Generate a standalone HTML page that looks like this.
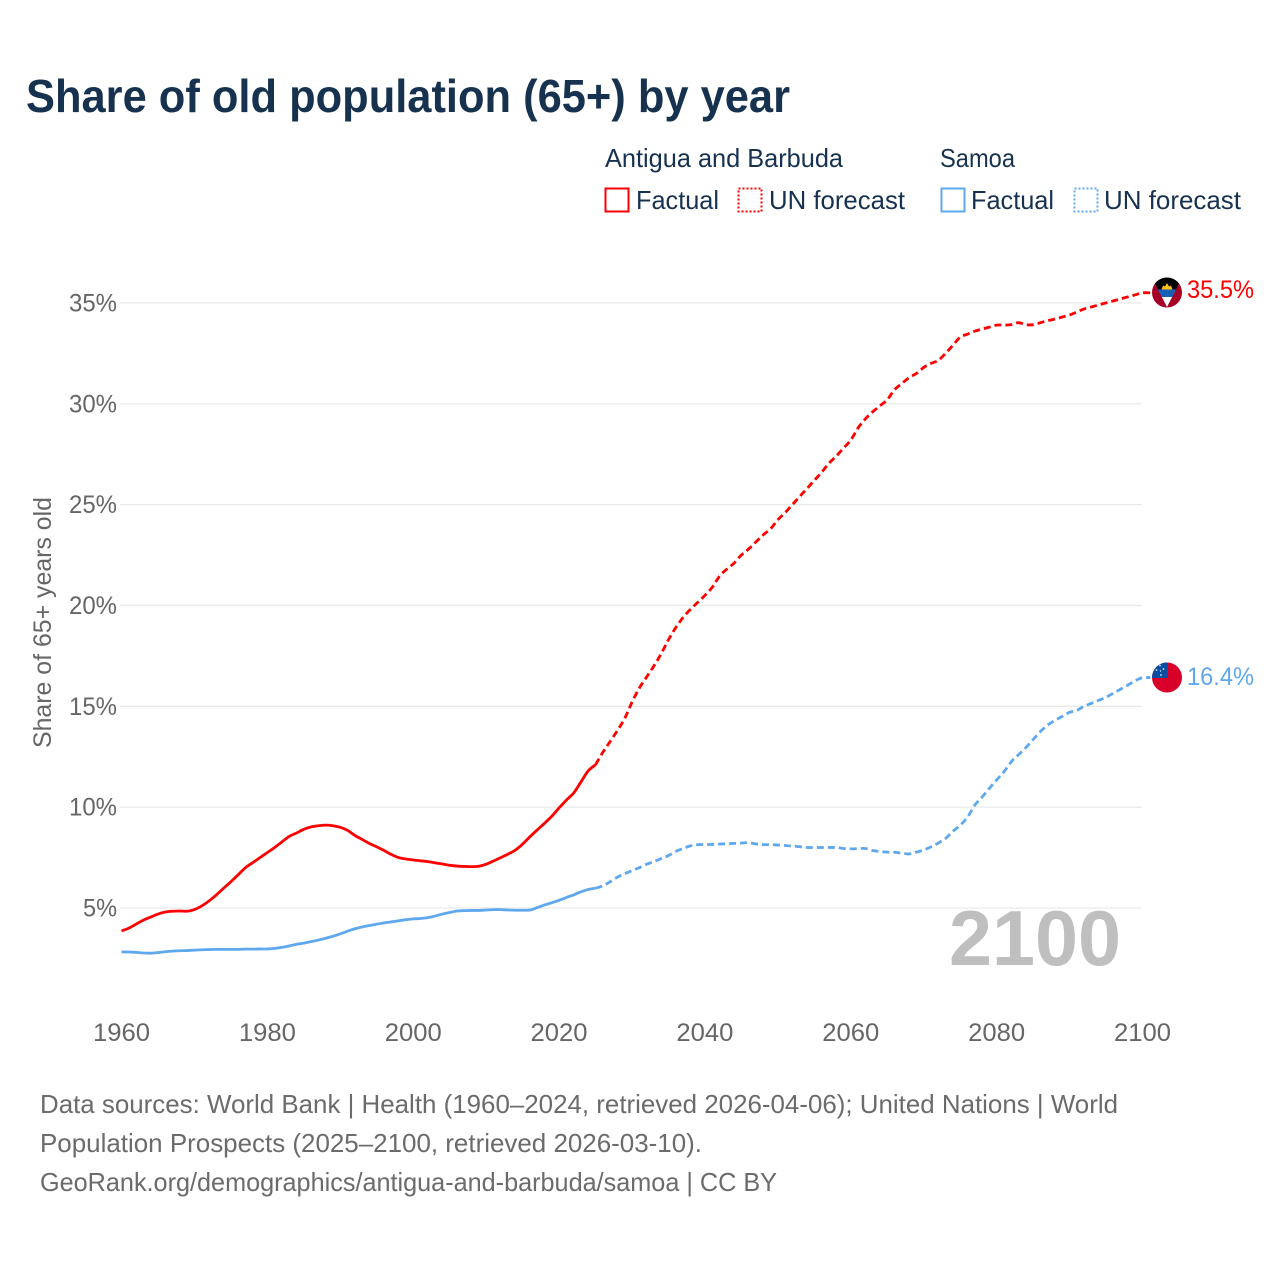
<!DOCTYPE html>
<html lang="en">
<head>
<meta charset="utf-8">
<title>Share of old population (65+) by year</title>
<style>
html,body{margin:0;padding:0;background:#fff;}
svg{display:block;font-family:"Liberation Sans",sans-serif;}
</style>
</head>
<body>
<svg id="chart" xmlns="http://www.w3.org/2000/svg" width="1280" height="1280" viewBox="0 0 1280 1280">
  <rect width="1280" height="1280" fill="#fff"/>
  <text x="26" y="112" font-size="46" font-weight="700" fill="#17324f" textLength="764" lengthAdjust="spacingAndGlyphs">Share of old population (65+) by year</text>

  <g font-size="26" fill="#17324f">
    <text x="605" y="167" textLength="238" lengthAdjust="spacingAndGlyphs">Antigua and Barbuda</text>
    <text x="940" y="167" textLength="75" lengthAdjust="spacingAndGlyphs">Samoa</text>
    <rect x="605.5" y="188.5" width="23" height="23" fill="none" stroke="#ff0000" stroke-width="2"/>
    <text x="636" y="209" textLength="83" lengthAdjust="spacingAndGlyphs">Factual</text>
    <rect x="738.5" y="188.5" width="23" height="23" fill="none" stroke="#ff0000" stroke-width="2" stroke-dasharray="2 2"/>
    <text x="769" y="209" textLength="136" lengthAdjust="spacingAndGlyphs">UN forecast</text>
    <rect x="941.5" y="188.5" width="23" height="23" fill="none" stroke="#5fa8ee" stroke-width="2"/>
    <text x="971" y="209" textLength="83" lengthAdjust="spacingAndGlyphs">Factual</text>
    <rect x="1074.5" y="188.5" width="23" height="23" fill="none" stroke="#5fa8ee" stroke-width="2" stroke-dasharray="2 2"/>
    <text x="1104" y="209" textLength="137" lengthAdjust="spacingAndGlyphs">UN forecast</text>
  </g>

  <g id="grid"></g>
  <g id="yticks" font-size="25" fill="#666"></g>
  <g id="xticks" font-size="25" fill="#666"></g>
  <text transform="translate(51 748) rotate(-90)" font-size="25" fill="#666" textLength="251" lengthAdjust="spacingAndGlyphs">Share of 65+ years old</text>

  <text x="949" y="965" font-size="78" font-weight="700" fill="#bfbfbf" textLength="172" lengthAdjust="spacingAndGlyphs">2100</text>

  <g id="series"></g>

  <defs>
    <clipPath id="flag-clip-a"><circle cx="1167" cy="292.5" r="15"/></clipPath>
    <clipPath id="flag-clip-s"><circle cx="1167" cy="677.5" r="15"/></clipPath>
  </defs>
  <g id="flag-antigua" clip-path="url(#flag-clip-a)">
    <rect x="1152" y="277" width="30" height="31" fill="#a50026"/>
    <polygon points="1151.7,277 1182.3,277 1167,307" fill="#fff"/>
    <polygon points="1151.7,277 1182.3,277 1176,289.5 1158,289.5" fill="#000"/>
    <polygon points="1158,289.5 1176,289.5 1172.3,297 1161.7,297" fill="#1660b8"/>
    <polygon points="1161.5,289.5 1163,285.5 1165,286.5 1167,283 1169,286.5 1171,285.5 1172.5,289.5" fill="#fcc21b"/>
  </g>
  <g id="flag-samoa" clip-path="url(#flag-clip-s)">
    <rect x="1152" y="662" width="30" height="31" fill="#d8002a"/>
    <rect x="1152" y="662" width="15" height="16" fill="#0a4ea2"/>
    <circle cx="1160" cy="665.5" r="0.9" fill="#dfe8f5"/>
    <circle cx="1156.5" cy="670" r="0.9" fill="#dfe8f5"/>
    <circle cx="1163.5" cy="669" r="0.9" fill="#dfe8f5"/>
    <circle cx="1160.5" cy="671" r="0.7" fill="#dfe8f5"/>
    <circle cx="1161" cy="675" r="0.9" fill="#dfe8f5"/>
  </g>

  <text x="1187" y="298" font-size="25" fill="#ff0000" textLength="67" lengthAdjust="spacingAndGlyphs">35.5%</text>
  <text x="1187" y="685" font-size="25" fill="#5fa8ee" textLength="67" lengthAdjust="spacingAndGlyphs">16.4%</text>

  <g font-size="26" fill="#6b6b6b">
    <text x="40" y="1113" textLength="1078" lengthAdjust="spacingAndGlyphs">Data sources: World Bank | Health (1960–2024, retrieved 2026-04-06); United Nations | World</text>
    <text x="40" y="1152" textLength="662" lengthAdjust="spacingAndGlyphs">Population Prospects (2025–2100, retrieved 2026-03-10).</text>
    <text x="40" y="1191" textLength="737" lengthAdjust="spacingAndGlyphs">GeoRank.org/demographics/antigua-and-barbuda/samoa | CC BY</text>
  </g>
</svg>
<script>
const xTickLabels = [1960, 1980, 2000, 2020, 2040, 2060, 2080, 2100];
const yTickLabels = [5, 10, 15, 20, 25, 30, 35];
const factualStartYear = 1960;
const forecastStartYear = 2025;
const antiguaFactual = [
  3.86,4.0,4.2,4.4,4.55,4.7,4.8,4.84,4.85,4.84,
  4.92,5.1,5.35,5.65,5.98,6.3,6.65,7.0,7.25,7.5,
  7.75,8.0,8.28,8.55,8.72,8.9,9.02,9.08,9.11,9.08,
  9.0,8.85,8.6,8.4,8.2,8.03,7.85,7.65,7.5,7.43,
  7.38,7.34,7.3,7.24,7.18,7.12,7.08,7.06,7.05,7.07,
  7.17,7.33,7.5,7.67,7.87,8.17,8.53,8.87,9.2,9.55,
  9.96,10.35,10.7,11.25,11.8,12.1
];
const antiguaForecast = [
  12.1,12.72,13.25,13.8,14.4,15.2,15.9,16.45,17.0,17.6,
  18.3,18.9,19.4,19.8,20.15,20.5,20.9,21.45,21.8,22.1,
  22.5,22.8,23.15,23.5,23.8,24.25,24.6,25.0,25.4,25.8,
  26.2,26.6,27.05,27.4,27.8,28.2,28.8,29.25,29.6,29.9,
  30.2,30.7,31.0,31.3,31.5,31.8,32.0,32.15,32.5,32.9,
  33.3,33.45,33.6,33.7,33.8,33.9,33.9,33.92,34.02,33.92,
  33.92,34.02,34.12,34.2,34.3,34.4,34.55,34.7,34.8,34.9,
  35.0,35.1,35.2,35.3,35.4,35.5
];
const samoaFactual = [
  2.82,2.82,2.8,2.77,2.76,2.79,2.83,2.86,2.88,2.89,
  2.91,2.93,2.94,2.95,2.95,2.95,2.95,2.96,2.96,2.97,
  2.97,3.0,3.05,3.12,3.2,3.26,3.33,3.41,3.5,3.6,
  3.72,3.85,3.97,4.06,4.13,4.2,4.26,4.31,4.37,4.42,
  4.46,4.48,4.52,4.6,4.7,4.78,4.85,4.87,4.88,4.88,
  4.9,4.92,4.92,4.9,4.89,4.89,4.9,5.02,5.15,5.26,
  5.38,5.52,5.65,5.8,5.92,5.98
];
const samoaForecast = [
  5.98,6.1,6.3,6.53,6.7,6.85,7.0,7.17,7.3,7.45,
  7.6,7.8,7.95,8.08,8.14,8.15,8.15,8.17,8.19,8.2,
  8.22,8.24,8.17,8.14,8.14,8.12,8.1,8.07,8.04,8.0,
  8.0,8.0,8.0,8.0,7.95,7.93,7.94,7.95,7.85,7.8,
  7.77,7.76,7.72,7.68,7.77,7.88,8.03,8.22,8.45,8.8,
  9.1,9.5,10.1,10.5,10.93,11.35,11.75,12.25,12.6,12.95,
  13.35,13.75,14.07,14.3,14.5,14.7,14.8,15.0,15.15,15.3,
  15.45,15.65,15.85,16.05,16.27,16.42
];

const SVG_NS = 'http://www.w3.org/2000/svg';
const X0 = 121.5, X1 = 1142.5, YEAR0 = 1960, YEAR1 = 2100;
const Y5 = 908, PX_PER_PCT = 20.17;
function xScale(year) { return X0 + (year - YEAR0) * (X1 - X0) / (YEAR1 - YEAR0); }
function yScale(v) { return Y5 - (v - 5) * PX_PER_PCT; }
function make(tag, parent) {
  const el = document.createElementNS(SVG_NS, tag);
  parent.appendChild(el);
  return el;
}

const gridGroup = document.getElementById('grid');
const yTickGroup = document.getElementById('yticks');
yTickLabels.forEach(function (v) {
  const line = make('line', gridGroup);
  
  
  line.setAttribute('x1', 120);
  line.setAttribute('x2', 1142);
  line.setAttribute('y1', yScale(v));
  line.setAttribute('y2', yScale(v));
  line.setAttribute('stroke', '#e9e9e9');
  line.setAttribute('stroke-width', 1.3);
  const label = make('text', yTickGroup);
  
  
  label.setAttribute('x', 117);
  label.setAttribute('y', yScale(v) + 8.5);
  label.setAttribute('text-anchor', 'end');
  label.setAttribute('textLength', v < 10 ? 34 : 48);
  label.setAttribute('lengthAdjust', 'spacingAndGlyphs');
  label.textContent = v + '%';
});

const xTickGroup = document.getElementById('xticks');
xTickLabels.forEach(function (year) {
  const label = make('text', xTickGroup);
  
  
  label.setAttribute('x', xScale(year) - 28.5);
  label.setAttribute('y', 1041);
  label.setAttribute('textLength', 57);
  label.setAttribute('lengthAdjust', 'spacingAndGlyphs');
  label.textContent = year;
});

function pathFor(values, startYear, leadOut) {
  const pts = values.map(function (v, i) {
    return [xScale(startYear + i), yScale(v)];
  });
  if (leadOut) {
    pts.push([pts[pts.length - 1][0] + leadOut, pts[pts.length - 1][1]]);
  }
  let d = 'M' + pts[0][0].toFixed(2) + ' ' + pts[0][1].toFixed(2);
  for (let i = 0; i < pts.length - 1; i++) {
    const p0 = pts[Math.max(i - 1, 0)];
    const p1 = pts[i];
    const p2 = pts[i + 1];
    const p3 = pts[Math.min(i + 2, pts.length - 1)];
    const c1x = p1[0] + (p2[0] - p0[0]) / 6;
    const c1y = p1[1] + (p2[1] - p0[1]) / 6;
    const c2x = p2[0] - (p3[0] - p1[0]) / 6;
    const c2y = p2[1] - (p3[1] - p1[1]) / 6;
    d += 'C' + c1x.toFixed(2) + ' ' + c1y.toFixed(2) + ' ' + c2x.toFixed(2) + ' ' + c2y.toFixed(2) + ' ' + p2[0].toFixed(2) + ' ' + p2[1].toFixed(2);
  }
  return d;
}

const seriesGroup = document.getElementById('series');

const samoaForecastLine = make('path', seriesGroup);


samoaForecastLine.setAttribute('d', pathFor(samoaForecast, forecastStartYear, 8));
samoaForecastLine.setAttribute('stroke', '#5fa8ee');
samoaForecastLine.setAttribute('stroke-dasharray', '7 4');

const samoaFactualLine = make('path', seriesGroup);


samoaFactualLine.setAttribute('d', pathFor(samoaFactual, factualStartYear, 0));
samoaFactualLine.setAttribute('stroke', '#5fa8ee');

const antiguaForecastLine = make('path', seriesGroup);


antiguaForecastLine.setAttribute('d', pathFor(antiguaForecast, forecastStartYear, 8));
antiguaForecastLine.setAttribute('stroke', '#ff0000');
antiguaForecastLine.setAttribute('stroke-dasharray', '7 4');

const antiguaFactualLine = make('path', seriesGroup);


antiguaFactualLine.setAttribute('d', pathFor(antiguaFactual, factualStartYear, 0));
antiguaFactualLine.setAttribute('stroke', '#ff0000');

[samoaForecastLine, samoaFactualLine, antiguaForecastLine, antiguaFactualLine].forEach(function (p) {
  p.setAttribute('fill', 'none');
  p.setAttribute('stroke-width', 2.8);
  p.setAttribute('stroke-linejoin', 'round');
});
</script>
</body>
</html>
